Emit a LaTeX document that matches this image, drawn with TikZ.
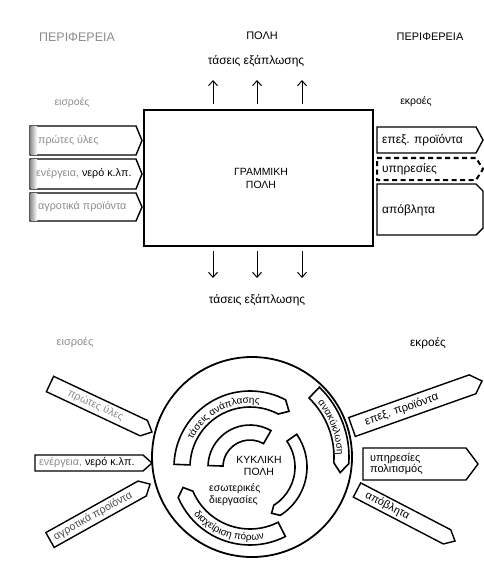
\documentclass[tikz,border=0pt]{standalone}
\usepackage{fontspec}
\setmainfont{Liberation Sans}
\usetikzlibrary{arrows.meta,decorations.text}
\begin{document}
\begin{tikzpicture}[x=1bp,y=1bp,
  lbl/.style={inner sep=0pt, font=\fontsize{11}{13}\selectfont},
  faded/.style={text=black!45},
  arr/.style={line width=1bp, -{Straight Barb[length=5bp,width=9bp]}},
  pent/.style={draw, line width=1.4bp, fill=white, line join=miter},
  dpent/.style={draw, line width=2bp, dash pattern=on 5bp off 3.5bp},
  boxtxt/.style={inner sep=0pt, font=\fontsize{10.8}{12}\selectfont, anchor=west},
  rtxt/.style={inner sep=0pt, font=\fontsize{12}{13}\selectfont, anchor=west},
  arctxt/.style={decorate, decoration={text along path, text align=center, text={#1}}},
  band/.style={draw, line width=1.6bp, fill=white, line join=miter}
]
\useasboundingbox (0,0) rectangle (484,-567);
\fill[white] (0,0) rectangle (484,-567);

% ---------------- top part: linear city ----------------
\node[lbl, faded, font=\fontsize{12.5}{14}\selectfont] (perL) at (77,-37) {ΠΕΡΙΦΕΡΕΙΑ};
\node[lbl] (polh) at (262,-36) {ΠΟΛΗ};
\node[lbl] (perR) at (430,-37) {ΠΕΡΙΦΕΡΕΙΑ};
\node[lbl, font=\fontsize{12}{13}\selectfont] (tasUp) at (256,-61) {τάσεις εξάπλωσης};

\foreach \x [count=\i] in {213,257,302}{
  \coordinate (ua\i) at (\x,-104);
  \coordinate (ub\i) at (\x,-80);
  \draw[arr] (ua\i) -- (ub\i);
}

\node[lbl, faded, font=\fontsize{10.5}{12}\selectfont] (eisTop) at (72,-103) {εισροές};
\node[lbl, font=\fontsize{10.5}{12}\selectfont] (ekTop) at (416,-102) {εκροές};

\node[draw, line width=2.4bp, minimum width=229bp, minimum height=136bp, inner sep=0pt, anchor=north west] (lin) at (143,-109) {};
\node[align=center, inner sep=0pt, font=\fontsize{10.5}{13}\selectfont] (linTxt) at (261,-178) {ΓΡΑΜΜΙΚΗ\\ΠΟΛΗ};

% input boxes (left)
\draw[pent] (30,-126) -- (136,-126) -- (142,-140.5) -- (136,-155) -- (30,-155) -- cycle;
\shade[left color=black!40, right color=white] (30.7,-126.7) rectangle (37,-154.3);
\node[boxtxt, faded] (inA) at (38,-140.5) {πρώτες ύλες};

\draw[pent] (30,-159) -- (136,-159) -- (142,-174) -- (136,-189) -- (30,-189) -- cycle;
\shade[left color=black!40, right color=white] (30.7,-159.7) rectangle (37,-188.3);
\node[boxtxt] (inB) at (36,-174) {\textcolor{black!45}{ενέργεια,} νερό κ.λπ.};

\draw[pent] (30,-193) -- (136,-193) -- (142,-207) -- (136,-221) -- (30,-221) -- cycle;
\shade[left color=black!40, right color=white] (30.7,-193.7) rectangle (37,-220.3);
\node[boxtxt, faded] (inC) at (38,-207) {αγροτικά προϊόντα};

% output boxes (right)
\draw[pent] (377,-127) -- (476,-127) -- (483,-140) -- (476,-153) -- (377,-153) -- cycle;
\node[rtxt] (outA) at (382,-140) {επεξ. προϊόντα};

\draw[dpent] (377,-158) -- (476,-158) -- (483,-169) -- (476,-180) -- (377,-180) -- cycle;
\node[rtxt] (outB) at (382,-169) {υπηρεσίες};

\draw[pent] (377,-184) -- (476,-184) -- (483,-191) -- (483,-228) -- (476,-235) -- (377,-235) -- cycle;
\node[rtxt] (outC) at (382,-210) {απόβλητα};

\foreach \x [count=\i] in {213,257,302}{
  \coordinate (da\i) at (\x,-251);
  \coordinate (db\i) at (\x,-278);
  \draw[arr] (da\i) -- (db\i);
}
\node[lbl, font=\fontsize{12}{13}\selectfont] (tasDown) at (257,-300) {τάσεις εξάπλωσης};

% ---------------- bottom part: circular city ----------------
\node[lbl, faded, font=\fontsize{11}{12}\selectfont] (eisBot) at (75,-343) {εισροές};
\node[lbl, font=\fontsize{12}{13}\selectfont] (ekBot) at (428,-343) {εκροές};

\node[circle, draw, line width=1.8bp, minimum size=200bp, inner sep=0pt] (city) at (252,-457) {};

% recycling band (centred on the circle)
\begin{scope}[shift={(252,-457)}]
  \draw[band] (46:97) arc[start angle=46,end angle=-4,radius=97bp] -- (-10:89.5) -- (-4:82) arc[start angle=-4,end angle=46,radius=82bp] -- cycle;
  \path[arctxt={|\fontsize{10}{11}\selectfont|ανακύκλωση}] (45:85) arc[start angle=45,end angle=-4,radius=85bp];
\end{scope}

\begin{scope}[shift={(250,-467)}]
  % top band
  \draw[band] (178:76) arc[start angle=178,end angle=62,radius=76bp] -- (55:68) -- (62:60) arc[start angle=62,end angle=178,radius=60bp] -- cycle;
  \path[arctxt={|\fontsize{10}{11}\selectfont|τάσεις ανάπλασης}] (174:63.5) arc[start angle=174,end angle=62,radius=63.5bp];
  % bottom band
  \draw[band] (297:78) arc[start angle=297,end angle=203,radius=78bp] -- (197:70) -- (203:62) arc[start angle=203,end angle=297,radius=62bp] -- cycle;
  \path[arctxt={|\fontsize{10}{11}\selectfont|διαχείριση πόρων}] (205:73.5) arc[start angle=205,end angle=296,radius=73.5bp];
  % inner arcs
  \draw[band] (178:42) arc[start angle=178,end angle=60,radius=42bp] -- (60:27) arc[start angle=60,end angle=178,radius=27bp] -- cycle;
  \draw[band] (35:57) arc[start angle=35,end angle=-58,radius=57bp] -- (-65:51) -- (-58:45) arc[start angle=-58,end angle=35,radius=45bp] -- cycle;
\end{scope}

\node[align=center, inner sep=0pt, font=\fontsize{10.5}{12.5}\selectfont] (cycTxt) at (259,-466) {ΚΥΚΛΙΚΗ\\ΠΟΛΗ};
\node[align=left, inner sep=0pt, font=\fontsize{10.5}{12.5}\selectfont, anchor=north west] (procTxt) at (209,-483) {εσωτερικές\\διεργασίες};

% inputs (left)
\begin{scope}[shift={(50,-384)}, rotate=-25.2]
  \draw[pent] (0,-8.5) -- (103.7,-8.5) -- (112.7,0) -- (103.7,8.5) -- (0,8.5) -- cycle;
  \node[boxtxt, faded, transform shape] (ciA) at (20,0) {πρώτες ύλες};
\end{scope}
\begin{scope}[shift={(35,-463)}]
  \draw[pent] (0,-8) -- (108,-8) -- (117,0) -- (108,8) -- (0,8) -- cycle;
  \node[boxtxt, transform shape] (ciB) at (4,0) {\textcolor{black!45}{ενέργεια,} νερό κ.λπ.};
\end{scope}
\begin{scope}[shift={(50,-540)}, rotate=29.2]
  \draw[pent] (0,-8.5) -- (105.6,-8.5) -- (114.6,0) -- (105.6,8.5) -- (0,8.5) -- cycle;
  \node[boxtxt, transform shape, text=black!70] (ciC) at (5,0) {αγροτικά προϊόντα};
\end{scope}

% outputs (right)
\begin{scope}[shift={(352,-427)}, rotate=19.5]
  \draw[pent] (0,-10) -- (127.9,-10) -- (137.9,0) -- (127.9,10) -- (0,10) -- cycle;
  \node[boxtxt, transform shape, font=\fontsize{11.5}{12}\selectfont] (coA) at (14,0) {επεξ. προϊόντα};
\end{scope}
\draw[pent] (363,-448) -- (466,-448) -- (478,-464) -- (466,-480) -- (363,-480) -- cycle;
\node[boxtxt, align=left, font=\fontsize{11}{11.5}\selectfont] (coB) at (370,-464) {υπηρεσίες\\πολιτισμός};
\begin{scope}[shift={(357,-490)}, rotate=-27.5]
  \draw[pent] (0,-8) -- (101.5,-8) -- (110.5,0) -- (101.5,8) -- (0,8) -- cycle;
  \node[boxtxt, transform shape, font=\fontsize{11}{12}\selectfont] (coC) at (10,0) {απόβλητα};
\end{scope}
\end{tikzpicture}
\end{document}
